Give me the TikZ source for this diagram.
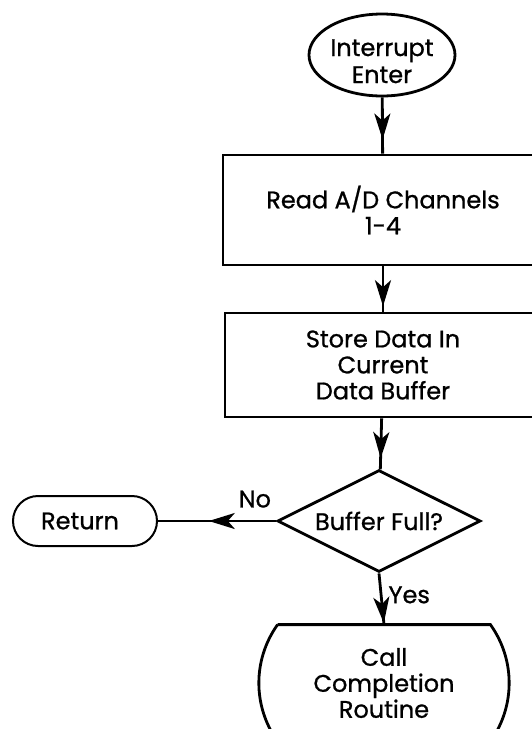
\documentclass[tikz,border=0pt]{standalone}
\usepackage{fontspec}
\setmainfont{Poppins}[FakeBold=0.9]
\usetikzlibrary{shapes.geometric, arrows.meta, decorations.markings}

\tikzset{
	every node/.style={font=\fontsize{12}{13}\selectfont, align=center, inner sep=0pt},
	stepbox/.style={draw, line width=1.4pt, minimum width=160pt, minimum height=55pt},
	flow/.style={line width=1.4pt, decoration={markings,
		mark=at position #1 with {\arrow{Stealth[length=13pt, width=8pt, inset=3.5pt]}}},
		postaction={decorate}},
}

\begin{document}
\begin{tikzpicture}[x=0.5pt, y=-0.5pt]
			\useasboundingbox (0, 0) rectangle (531, 729);

			\node[draw, ellipse, line width=1.4pt, minimum width=73pt, minimum height=41pt]
				(enter) at (382, 55) {\raisebox{-14pt}[0pt][0pt]{\shortstack{Interrupt\\[-1pt]Enter}}};
			\node[stepbox] (read) at (383, 210) {Read A/D Channels\\1-4};
			\node[stepbox, minimum width=158pt, minimum height=52pt] (store) at (383, 365) {Store Data In\\Current\\Data Buffer};
			\node[draw, diamond, aspect=2, line width=1.4pt, minimum width=101.5pt, minimum height=51pt]
				(full) at (379, 521) {Buffer Full?};
			\node[draw, rounded corners=12.5pt, line width=1pt, minimum width=72pt, minimum height=25pt]
				(ret) at (85, 521) {\hspace{-5pt}Return};
			\node[minimum width=106pt, minimum height=58pt] (call) at (384, 683) {Call\\Completion\\Routine};

			% bulged sides of the last step
			\draw[line width=1.4pt]	(call.north west) -- (call.north east)
								.. controls +(12.5pt, -17.5pt) and +(12.5pt, 17.5pt) .. (call.south east)
								-- (call.south west)
								.. controls +(-12.5pt, 17.5pt) and +(-12.5pt, -17.5pt) .. (call.north west);

			\draw[flow=0.75]	(enter) -- (read);
			\draw[flow=0.88]	(read) -- (store);
			\draw[flow=0.78]	(store) -- (full);
			\draw[flow=0.57]	(full.west) -- (ret.east) node[pos=0.18, above=6pt]{No};
			\draw[flow=0.97]	(full.south) -- (call.north) node[pos=0.42, right=3pt]{Yes};
		\end{tikzpicture}
\end{document}
